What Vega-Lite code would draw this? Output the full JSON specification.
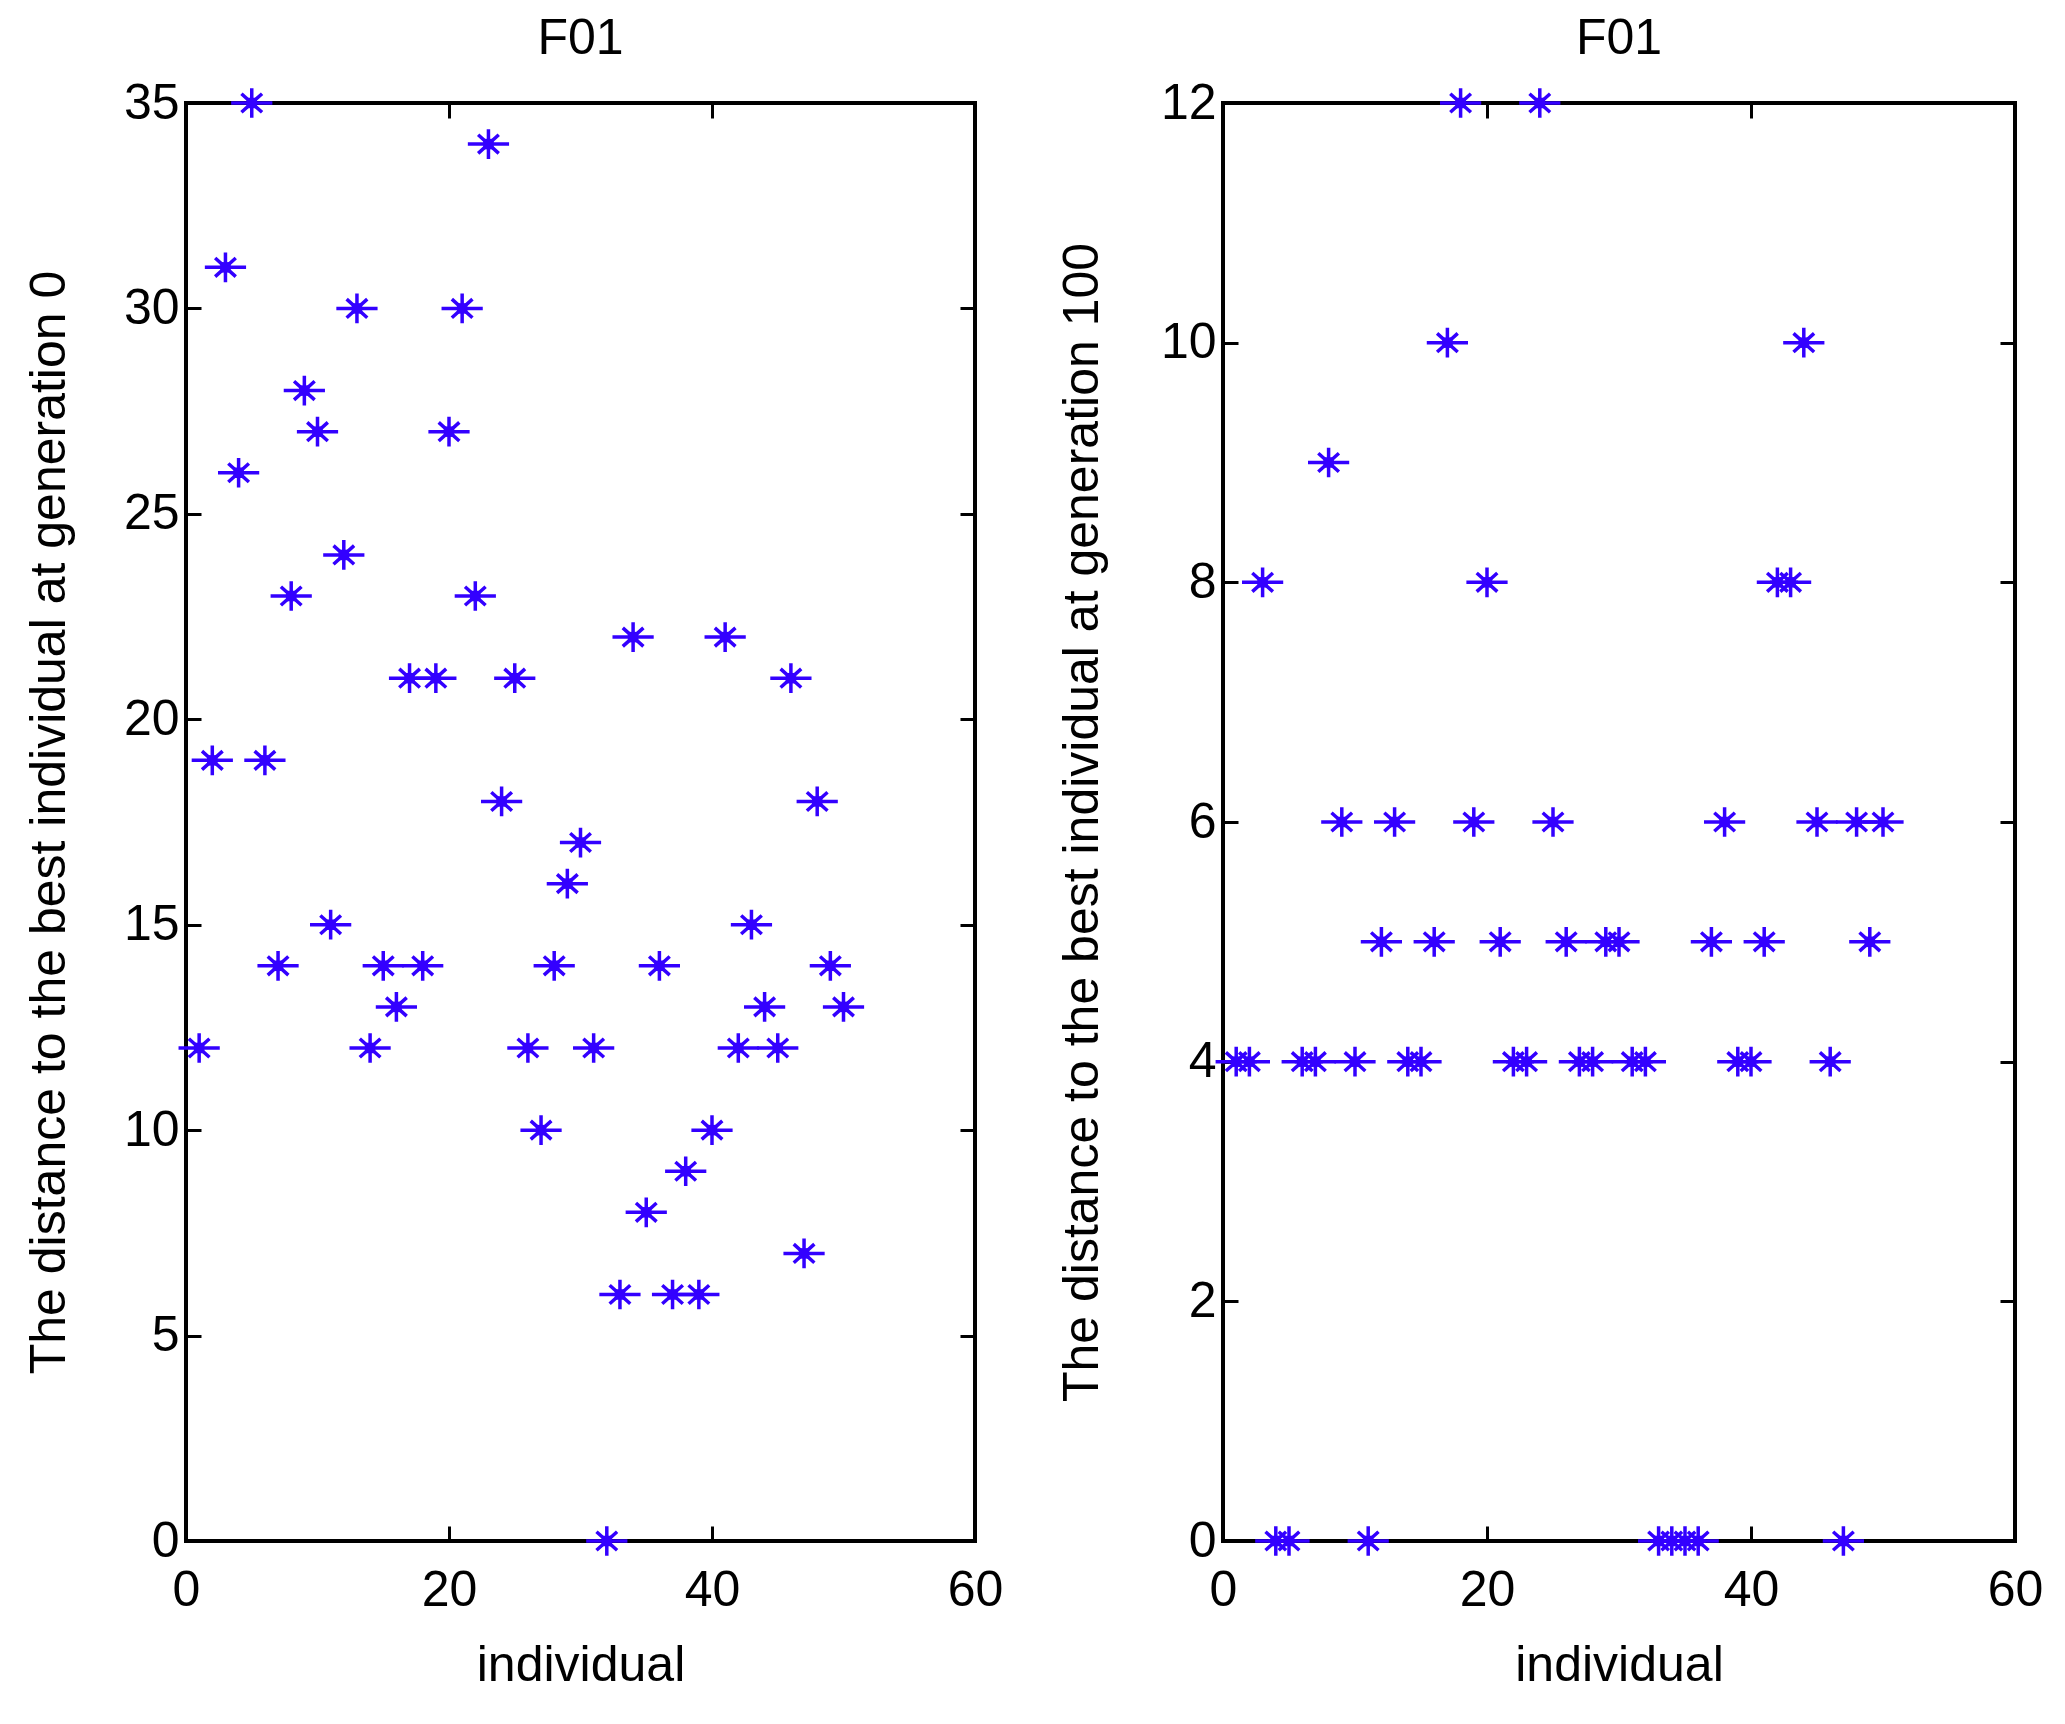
{
  "$schema": "https://vega.github.io/schema/vega-lite/v6.json",
  "background": "white",
  "padding": {"left": 22, "top": 12, "right": 20, "bottom": 20},
  "spacing": 50,
  "config": {
    "view": {"stroke": "black", "strokeWidth": 4},
    "font": "Liberation Sans",
    "axis": {
      "labelFont": "Liberation Sans", "labelFontSize": 50, "labelColor": "black",
      "titleFont": "Liberation Sans", "titleFontSize": 50, "titleFontWeight": "normal", "titleColor": "black",
      "tickColor": "black", "tickWidth": 3, "tickSize": -15, "domain": false, "grid": false, "labelFlush": false
    },
    "axisX": {"labelPadding": 39},
    "axisY": {"labelPadding": 22},
    "title": {"font": "Liberation Sans", "fontSize": 50, "fontWeight": "normal", "color": "black", "offset": 14}
  },
  "datasets": {
    "gen0": [
      {"individual": 1, "distance": 12}, {"individual": 2, "distance": 19}, {"individual": 3, "distance": 31}, {"individual": 4, "distance": 26}, {"individual": 5, "distance": 35},
      {"individual": 6, "distance": 19}, {"individual": 7, "distance": 14}, {"individual": 8, "distance": 23}, {"individual": 9, "distance": 28}, {"individual": 10, "distance": 27},
      {"individual": 11, "distance": 15}, {"individual": 12, "distance": 24}, {"individual": 13, "distance": 30}, {"individual": 14, "distance": 12}, {"individual": 15, "distance": 14},
      {"individual": 16, "distance": 13}, {"individual": 17, "distance": 21}, {"individual": 18, "distance": 14}, {"individual": 19, "distance": 21}, {"individual": 20, "distance": 27},
      {"individual": 21, "distance": 30}, {"individual": 22, "distance": 23}, {"individual": 23, "distance": 34}, {"individual": 24, "distance": 18}, {"individual": 25, "distance": 21},
      {"individual": 26, "distance": 12}, {"individual": 27, "distance": 10}, {"individual": 28, "distance": 14}, {"individual": 29, "distance": 16}, {"individual": 30, "distance": 17},
      {"individual": 31, "distance": 12}, {"individual": 32, "distance": 0}, {"individual": 33, "distance": 6}, {"individual": 34, "distance": 22}, {"individual": 35, "distance": 8},
      {"individual": 36, "distance": 14}, {"individual": 37, "distance": 6}, {"individual": 38, "distance": 9}, {"individual": 39, "distance": 6}, {"individual": 40, "distance": 10},
      {"individual": 41, "distance": 22}, {"individual": 42, "distance": 12}, {"individual": 43, "distance": 15}, {"individual": 44, "distance": 13}, {"individual": 45, "distance": 12},
      {"individual": 46, "distance": 21}, {"individual": 47, "distance": 7}, {"individual": 48, "distance": 18}, {"individual": 49, "distance": 14}, {"individual": 50, "distance": 13}
    ],
    "gen100": [
      {"individual": 1, "distance": 4}, {"individual": 2, "distance": 4}, {"individual": 3, "distance": 8}, {"individual": 4, "distance": 0}, {"individual": 5, "distance": 0},
      {"individual": 6, "distance": 4}, {"individual": 7, "distance": 4}, {"individual": 8, "distance": 9}, {"individual": 9, "distance": 6}, {"individual": 10, "distance": 4},
      {"individual": 11, "distance": 0}, {"individual": 12, "distance": 5}, {"individual": 13, "distance": 6}, {"individual": 14, "distance": 4}, {"individual": 15, "distance": 4},
      {"individual": 16, "distance": 5}, {"individual": 17, "distance": 10}, {"individual": 18, "distance": 12}, {"individual": 19, "distance": 6}, {"individual": 20, "distance": 8},
      {"individual": 21, "distance": 5}, {"individual": 22, "distance": 4}, {"individual": 23, "distance": 4}, {"individual": 24, "distance": 12}, {"individual": 25, "distance": 6},
      {"individual": 26, "distance": 5}, {"individual": 27, "distance": 4}, {"individual": 28, "distance": 4}, {"individual": 29, "distance": 5}, {"individual": 30, "distance": 5},
      {"individual": 31, "distance": 4}, {"individual": 32, "distance": 4}, {"individual": 33, "distance": 0}, {"individual": 34, "distance": 0}, {"individual": 35, "distance": 0},
      {"individual": 36, "distance": 0}, {"individual": 37, "distance": 5}, {"individual": 38, "distance": 6}, {"individual": 39, "distance": 4}, {"individual": 40, "distance": 4},
      {"individual": 41, "distance": 5}, {"individual": 42, "distance": 8}, {"individual": 43, "distance": 8}, {"individual": 44, "distance": 10}, {"individual": 45, "distance": 6},
      {"individual": 46, "distance": 4}, {"individual": 47, "distance": 0}, {"individual": 48, "distance": 6}, {"individual": 49, "distance": 5}, {"individual": 50, "distance": 6}
    ]
  },
  "hconcat": [
    {
      "title": "F01",
      "width": 789,
      "height": 1438,
      "data": {"name": "gen0"},
      "resolve": {"axis": {"x": "independent", "y": "independent"}},
      "layer": [
        {
          "mark": {"type": "point", "shape": "M-1,0L1,0M0,-0.72L0,0.72M-0.5,-0.45L0.5,0.45M-0.5,0.45L0.5,-0.45", "size": 1700, "filled": false, "stroke": "#3300ff", "strokeWidth": 3.5, "opacity": 1},
          "encoding": {
            "x": {"field": "individual", "type": "quantitative", "scale": {"domain": [0, 60], "nice": false, "zero": false}, "axis": {"values": [0, 20, 40, 60], "title": "individual", "titlePadding": 25}},
            "y": {"field": "distance", "type": "quantitative", "scale": {"domain": [0, 35], "nice": false}, "axis": {"values": [0, 5, 10, 15, 20, 25, 30, 35], "title": "The distance to the best individual at generation 0", "titlePadding": 49}}
          }
        },
        {
          "mark": {"type": "point", "shape": "square", "size": 110, "filled": true, "color": "#3300ff", "opacity": 1},
          "encoding": {
            "x": {"field": "individual", "type": "quantitative", "axis": {"orient": "top", "values": [0, 20, 40, 60], "labels": false, "title": null}},
            "y": {"field": "distance", "type": "quantitative", "axis": {"orient": "right", "values": [0, 5, 10, 15, 20, 25, 30, 35], "labels": false, "title": null}}
          }
        }
      ]
    },
    {
      "title": "F01",
      "width": 792,
      "height": 1438,
      "data": {"name": "gen100"},
      "resolve": {"axis": {"x": "independent", "y": "independent"}},
      "layer": [
        {
          "mark": {"type": "point", "shape": "M-1,0L1,0M0,-0.72L0,0.72M-0.5,-0.45L0.5,0.45M-0.5,0.45L0.5,-0.45", "size": 1700, "filled": false, "stroke": "#3300ff", "strokeWidth": 3.5, "opacity": 1},
          "encoding": {
            "x": {"field": "individual", "type": "quantitative", "scale": {"domain": [0, 60], "nice": false, "zero": false}, "axis": {"values": [0, 20, 40, 60], "title": "individual", "titlePadding": 25}},
            "y": {"field": "distance", "type": "quantitative", "scale": {"domain": [0, 12], "nice": false}, "axis": {"values": [0, 2, 4, 6, 8, 10, 12], "title": "The distance to the best individual at generation 100", "titlePadding": 53}}
          }
        },
        {
          "mark": {"type": "point", "shape": "square", "size": 110, "filled": true, "color": "#3300ff", "opacity": 1},
          "encoding": {
            "x": {"field": "individual", "type": "quantitative", "axis": {"orient": "top", "values": [0, 20, 40, 60], "labels": false, "title": null}},
            "y": {"field": "distance", "type": "quantitative", "axis": {"orient": "right", "values": [0, 2, 4, 6, 8, 10, 12], "labels": false, "title": null}}
          }
        }
      ]
    }
  ]
}
